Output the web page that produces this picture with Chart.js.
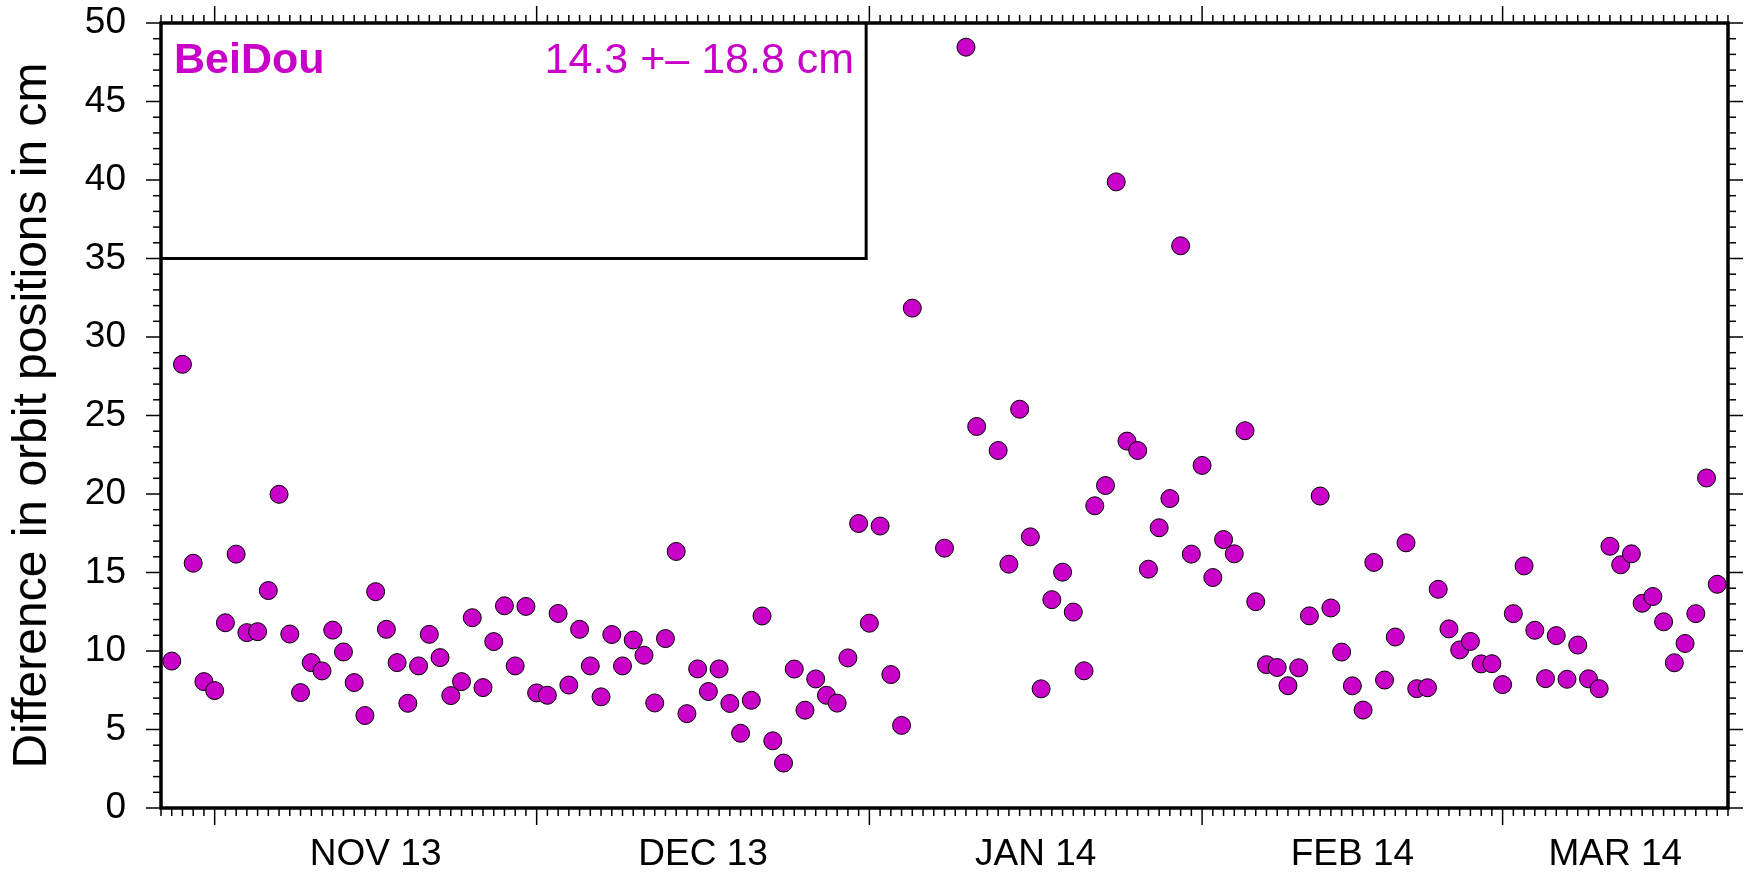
<!DOCTYPE html>
<html>
<head>
<meta charset="utf-8">
<script src="https://cdn.jsdelivr.net/npm/chart.js@4.4.1/dist/chart.umd.min.js"></script>
<style>
  html, body { margin: 0; padding: 0; background: #fff; }
</style>
</head>
<body>
<canvas id="chart" width="1748" height="873"></canvas>
<script>
// days counted from 1 Nov 2013, daily orbit differences in cm
const days = [
  -4, -3, -2, -1, 0, 1, 2, 3, 4, 5, 6, 7, 8, 9, 10, 11, 12, 13, 14, 15,
  16, 17, 18, 19, 20, 21, 22, 23, 24, 25, 26, 27, 28, 29, 30, 31, 32, 33, 34, 35,
  36, 37, 38, 39, 40, 41, 42, 43, 44, 45, 46, 47, 48, 49, 50, 51, 52, 53, 54, 55,
  56, 57, 58, 59, 60, 61, 62, 63, 64, 65, 68, 70, 71, 73, 74, 75, 76, 77, 78, 79,
  80, 81, 82, 83, 84, 85, 86, 87, 88, 89, 90, 91, 92, 93, 94, 95, 96, 97, 98, 99,
  100, 101, 102, 103, 104, 105, 106, 107, 108, 109, 110, 111, 112, 113, 114, 115, 116, 117, 118, 119,
  120, 121, 122, 123, 124, 125, 126, 127, 128, 129, 130, 131, 132, 133, 134, 135, 136, 137, 138, 139, 140
];
const diffs = [
  9.36, 28.26, 15.59, 8.05, 7.48, 11.8, 16.17, 11.17, 11.23, 13.85, 19.98, 11.08, 7.35, 9.26, 8.73, 11.33, 9.94, 7.99, 5.89, 13.78,
  11.38, 9.26, 6.67, 9.05, 11.06, 9.58, 7.16, 8.05, 12.12, 7.67, 10.6, 12.88, 9.05, 12.84, 7.33, 7.18, 12.39, 7.83, 11.38, 9.05,
  7.08, 11.05, 9.05, 10.7, 9.73, 6.69, 10.79, 16.34, 6.01, 8.86, 7.42, 8.86, 6.66, 4.76, 6.86, 12.23, 4.28, 2.86, 8.85, 6.23,
  8.22, 7.18, 6.68, 9.56, 18.12, 11.77, 17.96, 8.5, 5.26, 31.84, 16.55, 48.46, 24.3, 22.77, 15.53, 25.4, 17.27, 7.59, 13.27, 15.02,
  12.48, 8.74, 19.25, 20.54, 39.88, 23.37, 22.77, 15.21, 17.85, 19.71, 35.81, 16.17, 21.82, 14.68, 17.1, 16.19, 24.03, 13.14, 9.13, 8.95,
  7.79, 8.93, 12.24, 19.87, 12.74, 9.93, 7.78, 6.24, 15.64, 8.15, 10.89, 16.89, 7.6, 7.66, 13.93, 11.41, 10.07, 10.61, 9.18, 9.19,
  7.86, 12.38, 15.42, 11.32, 8.24, 10.98, 8.2, 10.38, 8.23, 7.6, 16.67, 15.49, 16.19, 13.04, 13.47, 11.86, 9.25, 10.48, 12.38, 21.02, 14.25
];
const monthStarts = [0, 30, 61, 92, 120];
const monthLabels = ['NOV 13', 'DEC 13', 'JAN 14', 'FEB 14', 'MAR 14'];
const labelDays = [15, 45.5, 76.5, 106, 130.5];
const systemName = 'BeiDou';
const statsText = '14.3 +\u2013 18.8 cm';

const MAGENTA = '#c800c8';
Chart.defaults.font.family = '"Liberation Sans", Arial, sans-serif';
Chart.defaults.color = '#000';

const line = (ctx, x1, y1, x2, y2) => {
  ctx.beginPath(); ctx.moveTo(x1, y1); ctx.lineTo(x2, y2); ctx.stroke();
};

const noPad = scale => {
  scale.paddingTop = 0; scale.paddingBottom = 0;
  scale.paddingLeft = 0; scale.paddingRight = 0;
};

// GMT style frame: thick border, outward ticks, inset box with labels
const framePlugin = {
  id: 'frame',
  afterDatasetsDraw(chart) {
    const { ctx, chartArea: a, scales: { x, y } } = chart;
    ctx.save();
    ctx.strokeStyle = '#000';
    ctx.lineWidth = 1.5;
    for (let d = Math.ceil(x.min); d <= x.max; d++) {
      const px = x.getPixelForValue(d);
      const len = monthStarts.includes(d) ? 17 : 8;
      line(ctx, px, a.bottom, px, a.bottom + len);
      line(ctx, px, a.top, px, a.top - len);
    }
    for (let v = y.min; v <= y.max; v++) {
      const py = y.getPixelForValue(v);
      const len = v % 5 === 0 ? 15 : 8;
      line(ctx, a.left - len, py, a.left, py);
      line(ctx, a.right, py, a.right + len, py);
    }
    ctx.lineWidth = 3.5;
    ctx.strokeRect(a.left, a.top, a.right - a.left, a.bottom - a.top);

    const bx = x.getPixelForValue(60.7);
    const by = y.getPixelForValue(35);
    ctx.lineWidth = 3;
    ctx.beginPath();
    ctx.moveTo(a.left, by); ctx.lineTo(bx, by); ctx.lineTo(bx, a.top);
    ctx.stroke();

    ctx.fillStyle = MAGENTA;
    ctx.textBaseline = 'alphabetic';
    ctx.font = 'bold 43px "Liberation Sans", Arial, sans-serif';
    ctx.textAlign = 'left';
    ctx.fillText(systemName, a.left + 13, a.top + 50);
    ctx.font = '43px "Liberation Sans", Arial, sans-serif';
    ctx.textAlign = 'right';
    ctx.fillText(statsText, bx - 12, a.top + 50);
    ctx.restore();
  }
};

new Chart(document.getElementById('chart'), {
  type: 'scatter',
  data: {
    datasets: [{
      data: days.map((d, i) => ({ x: d, y: diffs[i] })),
      backgroundColor: MAGENTA,
      borderColor: '#000',
      borderWidth: 1,
      pointRadius: 9,
      pointHoverRadius: 9
    }]
  },
  options: {
    responsive: false,
    animation: false,
    layout: { padding: { top: 23, right: 20, left: 0, bottom: 0 } },
    plugins: { legend: { display: false }, tooltip: { enabled: false } },
    scales: {
      x: {
        type: 'linear',
        min: -5,
        max: 141,
        grid: { display: false, drawTicks: false },
        border: { display: false },
        afterBuildTicks: scale => { scale.ticks = labelDays.map(v => ({ value: v })); },
        afterFit: scale => { scale.height = 65; noPad(scale); },
        ticks: {
          autoSkip: false,
          maxRotation: 0,
          padding: 25,
          font: { size: 37 },
          callback: (v, i) => monthLabels[i]
        }
      },
      y: {
        min: 0,
        max: 50,
        grid: { display: false, drawTicks: false },
        border: { display: false },
        afterFit: scale => { scale.width = 161; noPad(scale); },
        ticks: { stepSize: 5, padding: 35, font: { size: 37 } },
        title: {
          display: true,
          text: 'Difference in orbit positions in cm',
          font: { size: 48 },
          padding: { top: 4, bottom: 0 }
        }
      }
    }
  },
  plugins: [framePlugin]
});
</script>
</body>
</html>
